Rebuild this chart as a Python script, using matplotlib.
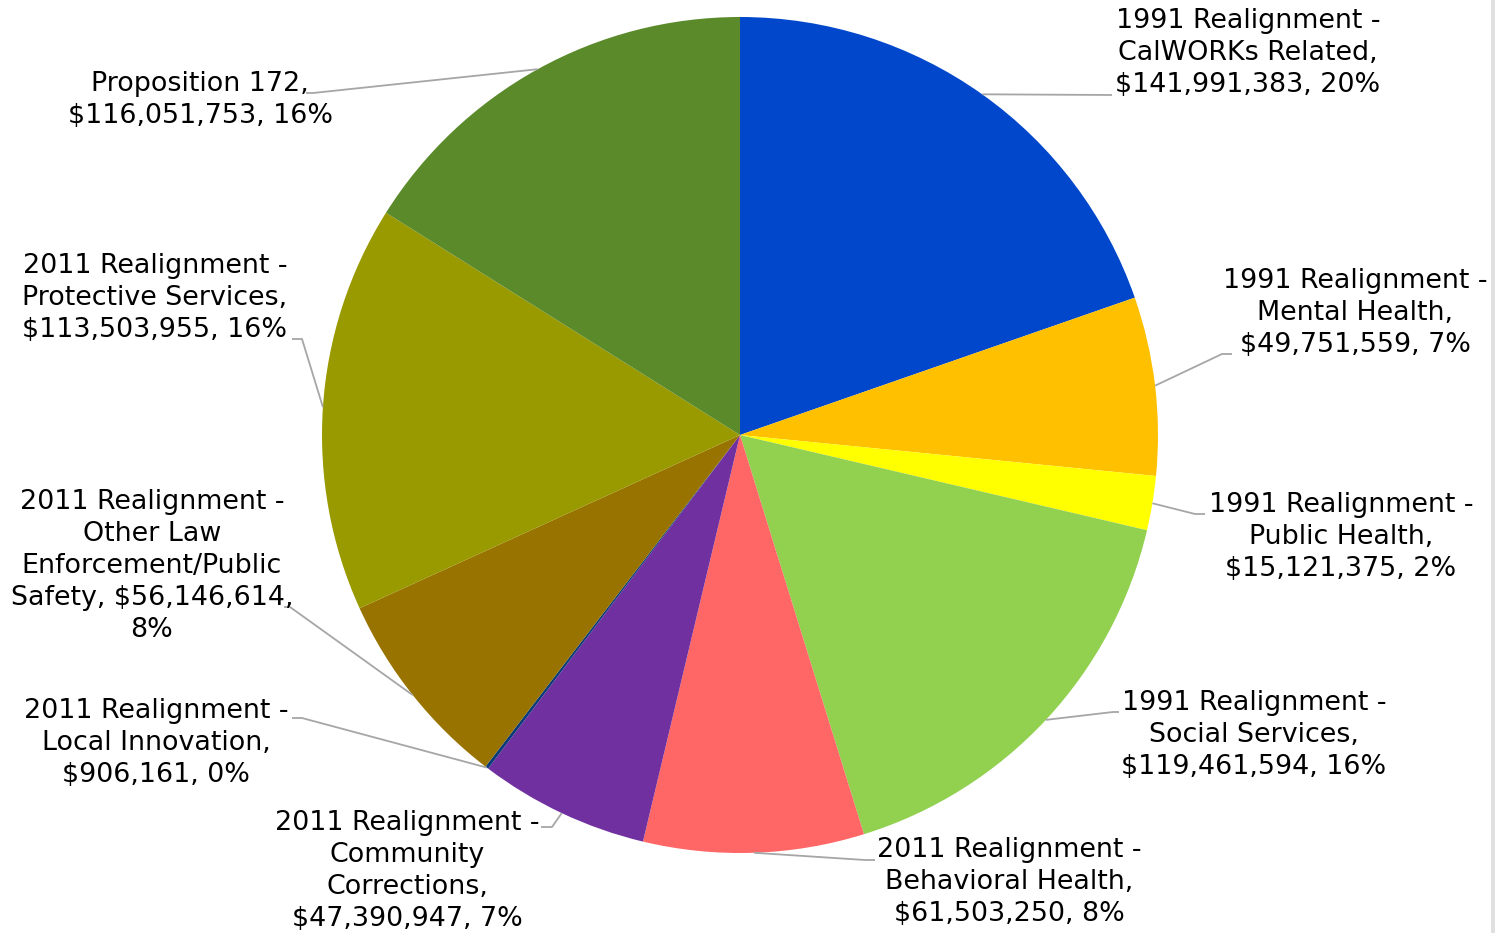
import numpy as np
import matplotlib.pyplot as plt

# Funding sources, in clockwise order from 12 o'clock
categories = [
    "1991 Realignment - CalWORKs Related",
    "1991 Realignment - Mental Health",
    "1991 Realignment - Public Health",
    "1991 Realignment - Social Services",
    "2011 Realignment - Behavioral Health",
    "2011 Realignment - Community Corrections",
    "2011 Realignment - Local Innovation",
    "2011 Realignment - Other Law Enforcement/Public Safety",
    "2011 Realignment - Protective Services",
    "Proposition 172",
]
amounts = [141991383, 49751559, 15121375, 119461594, 61503250,
           47390947, 906161, 56146614, 113503955, 116051753]
pct_labels = ["20%", "7%", "2%", "16%", "8%", "7%", "0%", "8%", "16%", "16%"]

colors = ["#0047cc", "#ffc000", "#ffff00", "#92d050", "#ff6666",
          "#7030a0", "#0a3a78", "#997300", "#999900", "#5a8a2a"]

# Label wrapping for each slice
label_fmt = [
    "1991 Realignment -\nCalWORKs Related,\n{amt}, {pct}",
    "1991 Realignment -\nMental Health,\n{amt}, {pct}",
    "1991 Realignment -\nPublic Health,\n{amt}, {pct}",
    "1991 Realignment -\nSocial Services,\n{amt}, {pct}",
    "2011 Realignment -\nBehavioral Health,\n{amt}, {pct}",
    "2011 Realignment -\nCommunity\nCorrections,\n{amt}, {pct}",
    "2011 Realignment -\nLocal Innovation,\n{amt}, {pct}",
    "2011 Realignment -\nOther Law\nEnforcement/Public\nSafety, {amt},\n{pct}",
    "2011 Realignment -\nProtective Services,\n{amt}, {pct}",
    "Proposition 172,\n{amt}, {pct}",
]

W, H = 1495, 933
fig = plt.figure(figsize=(W / 100, H / 100), dpi=100)
ax = fig.add_axes([0, 0, 1, 1])


def py(y):
    """Top-down pixel row to data y."""
    return H - y


cx, cy, R = 740, py(435), 418
wedges, _ = ax.pie(amounts, colors=colors, startangle=90, counterclock=False,
                   center=(cx, cy), radius=R, wedgeprops=dict(linewidth=0))

ax.set_xlim(0, W)
ax.set_ylim(0, H)
ax.set_aspect("equal")
ax.axis("off")

# Label centres and leader bend points (pixel rows from the top)
label_pos = [(1248, 53), (1355, 313), (1341, 537), (1254, 735), (1009, 882),
             (407, 871), (156, 743), (152, 566), (155, 298), (200, 100)]
leader_pts = [
    [(1112, 95)],
    [(1222, 354), (1232, 354)],
    [(1195, 514), (1205, 514)],
    [(1113, 712), (1119, 712)],
    [(865, 860), (875, 860)],
    [(552, 827), (541, 827)],
    [(302, 718), (292, 718)],
    [(290, 607), (284, 607)],
    [(302, 339), (292, 339)],
    [(313, 93), (306, 93)],
]

for w, fmt, pct, amt, (lx, ly), pts in zip(wedges, label_fmt, pct_labels,
                                             amounts, label_pos, leader_pts):
    mid = np.deg2rad((w.theta1 + w.theta2) / 2)
    ex, ey = cx + R * np.cos(mid), cy + R * np.sin(mid)
    xs = [ex] + [p[0] for p in pts]
    ys = [ey] + [py(p[1]) for p in pts]
    ax.plot(xs, ys, color="#a6a6a6", lw=1.3, solid_capstyle="butt", zorder=1)
    text = fmt.format(amt="${:,}".format(amt), pct=pct)
    ax.text(lx, py(ly), text, ha="center", va="center", multialignment="center",
            fontsize=19.4, linespacing=1.29, color="#000000",
            family="DejaVu Sans", parse_math=False)

# Light frame edge on the right
ax.axvspan(1491, W, color="#e0e0e0", lw=0)

fig.savefig("out.png", dpi=100)
